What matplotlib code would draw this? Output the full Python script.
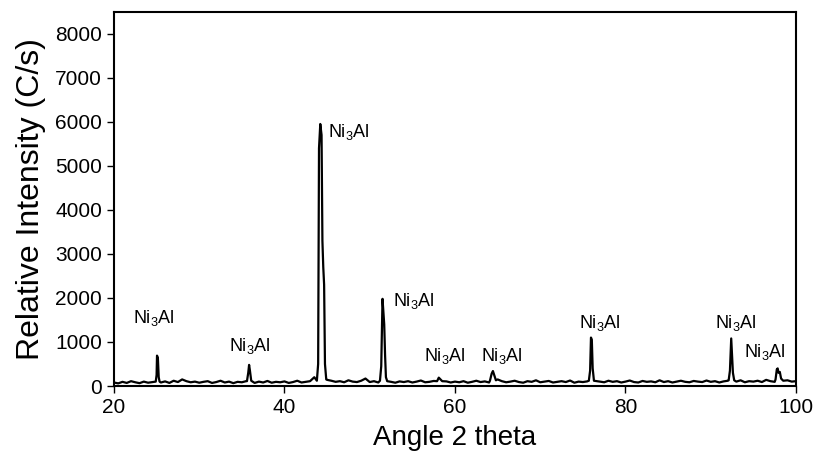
import numpy as np
import matplotlib.pyplot as plt

plt.rcParams["font.family"] = ["Liberation Sans", "DejaVu Sans"]

# background scan (0.5 deg steps from 20 to 100), counts
scan_start, scan_step = 20.0, 0.5
baseline = [
    80, 60, 95, 70, 110, 85, 65, 100, 75, 90,
    95, 80, 105, 70, 120, 90, 150, 110, 85, 100,
    75, 95, 110, 70, 90, 120, 80, 100, 65, 95,
    85, 110, 90, 70, 100, 80, 115, 75, 95, 85,
    105, 70, 90, 120, 80, 95, 110, 200, 130, 150,
    140, 120, 95, 110, 85, 130, 100, 90, 120, 170,
    90, 110, 80, 100, 120, 95, 75, 105, 90, 110,
    80, 100, 125, 85, 95, 115, 150, 90, 105, 80,
    100, 85, 110, 75, 95, 120, 90, 105, 80, 100,
    150, 110, 85, 100, 120, 90, 75, 110, 95, 130,
    85, 100, 115, 80, 95, 110, 90, 125, 75, 100,
    90, 105, 80, 115, 100, 85, 120, 95, 110, 80,
    100, 125, 90, 80, 115, 95, 105, 85, 130, 90,
    110, 80, 100, 120, 95, 85, 115, 100, 90, 125,
    95, 110, 80, 105, 120, 90, 100, 130, 85, 110,
    100, 120, 90, 140, 110, 95, 150, 120, 130, 100,
    110,
]

# diffraction peaks: (angles, counts)
peak_25 = ([24.9, 25.0, 25.05, 25.15, 25.25, 25.35], [100, 250, 690, 640, 200, 100])
peak_36 = ([35.6, 35.75, 35.85, 35.95, 36.1], [110, 300, 480, 350, 120])
peak_44 = ([43.8, 43.95, 44.05, 44.2, 44.35, 44.45, 44.55, 44.65, 44.75, 44.9],
           [120, 500, 5400, 5950, 5700, 3300, 2700, 2300, 500, 150])
peak_52 = ([51.2, 51.35, 51.5, 51.6, 51.7, 51.8, 51.9, 52.05],
           [120, 450, 1980, 1700, 1400, 700, 200, 110])
peak_58 = ([57.9, 58.1, 58.3, 58.5], [110, 190, 150, 110])
peak_64 = ([64.1, 64.3, 64.45, 64.6, 64.8], [120, 280, 340, 250, 130])
peak_76 = ([75.7, 75.85, 75.95, 76.05, 76.15, 76.3], [120, 350, 1100, 1050, 400, 120])
peak_92 = ([92.1, 92.25, 92.4, 92.5, 92.6, 92.75], [130, 350, 1080, 700, 300, 130])
peak_98 = ([97.6, 97.75, 97.85, 97.95, 98.1, 98.25], [150, 380, 400, 300, 320, 170])
peaks = [peak_25, peak_36, peak_44, peak_52, peak_58, peak_64, peak_76, peak_92, peak_98]

# phase labels: (left x, y centre)
label_x = [22.26, 33.5, 45.15, 52.7, 56.4, 63.1, 74.6, 90.5, 93.9]
label_y = [1535, 907, 5770, 1940, 690, 690, 1440, 1440, 780]
label_text = "Ni$_\\mathregular{3}$Al"

# merge scan + peaks
x_base = scan_start + scan_step * np.arange(len(baseline))
y_base = np.array(baseline, dtype=float)
keep = np.ones(len(x_base), dtype=bool)
for px, py in peaks:
    keep &= ~((x_base >= px[0]) & (x_base <= px[-1]))
xs = np.concatenate([x_base[keep]] + [np.array(p[0]) for p in peaks])
ys = np.concatenate([y_base[keep]] + [np.array(p[1], dtype=float) for p in peaks])
order = np.argsort(xs)
xs, ys = xs[order], ys[order]

fig = plt.figure(figsize=(8.14, 4.55), dpi=100)
ax = fig.add_axes([0.140, 0.1516, 0.8379, 0.8227])
ax.plot(xs, ys, color="black", lw=1.6)

for lx, ly in zip(label_x, label_y):
    ax.text(lx, ly, label_text, ha="left", va="center", fontsize=13)

ax.set_xlim(20, 100)
ax.set_ylim(0, 8500)
ax.set_xticks([20, 40, 60, 80, 100])
ax.set_yticks(range(0, 8001, 1000))
ax.tick_params(direction="out", length=5, width=1, labelsize=15)
for s in ax.spines.values():
    s.set_linewidth(1.5)
ax.set_xlabel("Angle 2 theta", fontsize=20, labelpad=6)
ax.set_ylabel("Relative Intensity (C/s)", fontsize=23, labelpad=7)

fig.savefig("out.png", dpi=100)
